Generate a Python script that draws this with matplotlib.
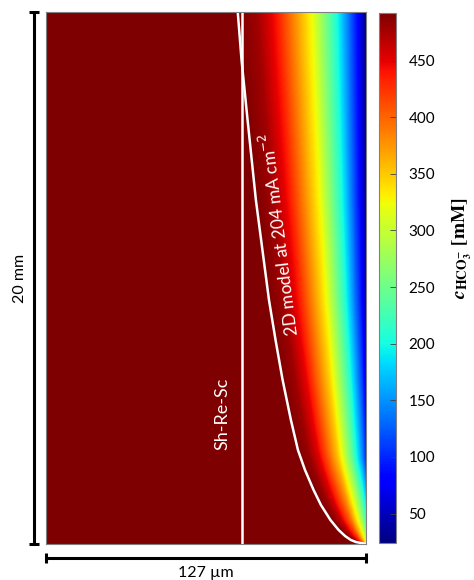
import numpy as np
import matplotlib.pyplot as plt

plt.rcParams['font.family'] = ['Lato', 'DejaVu Sans']

# channel geometry
channel_width_um = 127
channel_height_mm = 20

# 2D model concentration boundary layer edge along the channel
model_y_mm = [0.011, 0.03, 0.075, 0.15, 0.30, 0.53, 0.90, 1.47, 2.03, 2.78,
              3.53, 4.66, 6.17, 7.67, 9.17, 12.93, 15.94, 18.2, 20.0]
model_x_um = [127, 125.4, 123.0, 121.0, 118.7, 116.1, 112.9, 109.1, 106.2, 102.8,
              100.0, 97.2, 93.9, 91.1, 88.5, 83.3, 80.0, 77.6, 76.1]

# Sh-Re-Sc correlation estimate (uniform thickness)
shresc_x_um = 77.6

# bicarbonate concentration at the electrode wall
wall_y_mm = [0, 0.4, 0.9, 1.65, 3.2, 6.2, 9.2, 12.9, 15.9, 18.2, 20.0]
wall_c_mM = [320, 270, 225, 185, 105, 70, 45, 32, 27, 25, 24]

bulk_c_mM = 492
min_c_mM = 24

# normalised profile across the boundary layer (0 = wall, 1 = edge)
profile_s = [0, 0.05, 0.21, 0.42, 0.7, 0.85, 1.0]
profile_g = [0, 0.11, 0.36, 0.64, 0.89, 0.97, 1.0]

cbar_ticks = [50, 100, 150, 200, 250, 300, 350, 400, 450]

# build concentration field
x = np.linspace(0, channel_width_um, 640)
y = np.linspace(0, channel_height_mm, 1064)
delta = channel_width_um - np.interp(y, model_y_mm, model_x_um)
delta = np.clip(delta, 0.3, None)
s = (channel_width_um - x[None, :]) / delta[:, None]
g = np.interp(s, profile_s, profile_g)
cw = np.interp(y, wall_y_mm, wall_c_mM)[:, None]
conc = cw + (bulk_c_mM - cw) * g

W, H = 474, 580
fig = plt.figure(figsize=(W / 100, H / 100), dpi=100)
ax = fig.add_axes([46 / W, 36 / H, 320 / W, 532 / H])

im = ax.imshow(conc, origin='lower', extent=[0, channel_width_um, 0, channel_height_mm],
               aspect='auto', cmap='jet', vmin=min_c_mM, vmax=bulk_c_mM,
               interpolation='bilinear')
ax.plot(model_x_um, model_y_mm, color='white', lw=1.8, solid_joinstyle='round')
ax.axvline(shresc_x_um, color='white', lw=1.8)
ax.set_xlim(0, channel_width_um)
ax.set_ylim(0, channel_height_mm)
ax.set_xticks([])
ax.set_yticks([])
for sp in ax.spines.values():
    sp.set_color('#808080')
    sp.set_linewidth(0.8)

ax.text(70.2, 4.9, 'Sh-Re-Sc', color='white', fontsize=13, rotation=90,
        ha='center', va='center')
ax.text(92.5, 11.65, '2D model at 204 mA cm$^{-2}$', color='white', fontsize=12.5,
        rotation=97, ha='center', va='center', rotation_mode='anchor')

# scale bars
kw = dict(color='black', lw=2.2, clip_on=False, solid_capstyle='butt')
bx = -0.0375 * channel_width_um
cap_x = 0.016 * channel_width_um
ax.plot([bx, bx], [0, channel_height_mm], **kw)
ax.plot([bx - cap_x, bx + cap_x], [0, 0], **kw)
ax.plot([bx - cap_x, bx + cap_x], [channel_height_mm] * 2, **kw)
ax.text(bx - 0.044 * channel_width_um, channel_height_mm / 2, f'{channel_height_mm} mm',
        rotation=90, ha='center', va='center', fontsize=11.5)

by = -0.026 * channel_height_mm
cap_y = 0.0095 * channel_height_mm
ax.plot([0, channel_width_um], [by, by], **kw)
ax.plot([0, 0], [by - cap_y, by + cap_y], **kw)
ax.plot([channel_width_um] * 2, [by - cap_y, by + cap_y], **kw)
ax.text(channel_width_um / 2, by - 0.0285 * channel_height_mm, f'{channel_width_um} µm',
        ha='center', va='center', fontsize=11.5)

# colorbar
cax = fig.add_axes([379 / W, 37 / H, 17 / W, 530 / H])
cb = fig.colorbar(im, cax=cax, ticks=cbar_ticks)
cb.outline.set_edgecolor('#808080')
cb.outline.set_linewidth(0.8)
cax.tick_params(direction='in', length=4, width=0.6, color='#404040', pad=9, labelsize=11)
fig.text(462 / W, 1 - 248 / H,
         r'$\mathbfit{c}_{\mathbf{HCO}_{\mathbf{3}}^{\mathbf{-}}}\ \mathbf{[mM]}$',
         rotation=90, ha='center', va='center', fontsize=14, math_fontfamily='stix')

fig.savefig('out.png', dpi=100)
